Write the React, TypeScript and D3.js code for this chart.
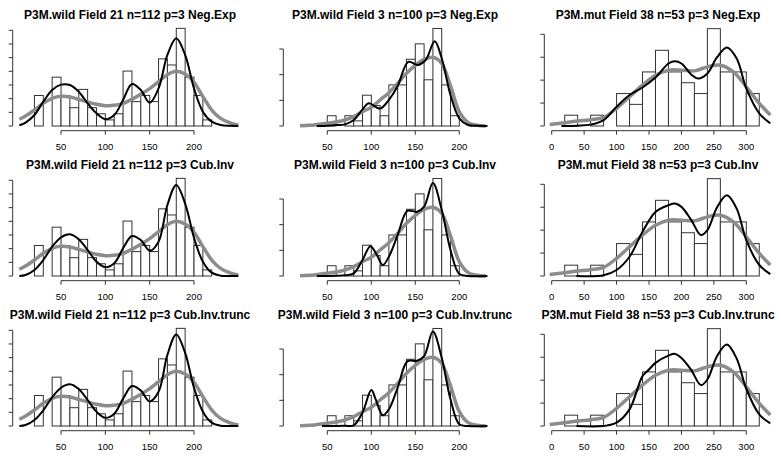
import React, { useEffect, useRef } from "react";
import * as d3 from "d3";

const WIDTH = 781;
const HEIGHT = 460;

// one column per field, one row per weighting method
const fieldLabels = ["P3M.wild Field 21 n=112", "P3M.wild Field 3 n=100", "P3M.mut Field 38 n=53"];
const methods = ["Neg.Exp", "Cub.Inv", "Cub.Inv.trunc"];
const sampleN = [112, 100, 53];
const binStart = [20, 50, 20];
const binWidth = [10, 10, 20];
const counts21 = [5, 0, 8, 5, 3, 6, 3, 2, 1, 2, 9, 4, 5, 4, 11, 10, 16, 8, 5, 1];
const counts3 = [2, 0, 2, 1, 6, 4, 2, 8, 8, 13, 16, 9, 19, 8, 2];
const counts38 = [1, 0, 1, 0, 3, 2, 5, 7, 5, 4, 3, 9, 5, 5, 3];

// densities below are x 1000
const grayX21 = [3, 10, 20, 30, 40, 50, 60, 70, 80, 90, 100, 110, 120, 130, 140, 150, 160, 170, 180, 190, 200, 210, 220, 230, 240, 250];
const grayY21 = [0.98, 1.46, 2.34, 3.32, 4.05, 4.34, 4.24, 3.9, 3.51, 3.17, 2.98, 3.02, 3.32, 3.9, 4.63, 5.46, 6.49, 7.51, 8.0, 7.6, 6.4, 4.3, 2.34, 1.12, 0.49, 0.15];
const blackX21 = grayX21;
const negExp21 = [0.1, 0.49, 1.61, 3.56, 5.27, 6.05, 6.0, 5.02, 3.32, 1.85, 1.0, 1.61, 3.8, 6.15, 5.27, 3.41, 5.5, 10.4, 12.83, 10.4, 5.5, 2.1, 0.63, 0.15, 0.02, 0];
const cubInv21 = [0, 0.15, 0.88, 2.34, 4.29, 5.66, 6.1, 5.37, 3.8, 2.1, 1.27, 1.85, 4.05, 5.85, 5.27, 3.7, 5.02, 10.39, 13.32, 10.6, 5.6, 2.1, 0.49, 0.05, 0, 0];
const cubTrunc21 = [0, 0.15, 0.88, 2.3, 4.2, 5.6, 6.1, 5.4, 3.8, 2.1, 1.2, 1.8, 4.0, 5.85, 5.2, 3.6, 5.0, 10.4, 13.4, 10.7, 5.6, 2.1, 0.5, 0.05, 0, 0];

const grayX3 = [19, 30, 40, 50, 60, 70, 80, 90, 100, 110, 120, 130, 140, 150, 160, 170, 180, 190, 200, 210, 220, 230];
const grayY3 = [0.03, 0.13, 0.32, 0.52, 0.78, 1.17, 1.82, 2.79, 3.64, 5.06, 6.49, 8.31, 10.26, 11.82, 12.99, 13.38, 12.2, 7.8, 2.79, 0.65, 0.13, 0];
const negExpX3 = [38, 50, 60, 70, 80, 90, 97, 110, 120, 130, 142, 153, 162, 172, 180, 190, 200, 210, 220, 232];
const negExp3 = [0, 0.06, 0.19, 0.32, 1.17, 3.25, 4.42, 3.4, 5.1, 7.8, 12.5, 11.9, 12.9, 16.5, 13.2, 6.0, 1.5, 0.19, 0.03, 0];
const cubInvX3 = [38, 60, 70, 80, 90, 99, 106, 113, 120, 130, 141, 152, 160, 170, 180, 190, 200, 210, 232];
const cubInv3 = [0, 0.06, 0.13, 0.52, 3.12, 5.8, 4.2, 2.14, 3.77, 8.0, 12.7, 12.5, 13.5, 18.1, 12.9, 5.06, 0.4, 0, 0];
const cubTruncX3 = [44, 70, 80, 90, 100, 105, 113, 120, 130, 141, 152, 160, 170, 180, 190, 200, 210, 232];
const cubTrunc3 = [0, 0.05, 0.13, 2.6, 7.0, 5.2, 2.08, 3.25, 7.5, 12.6, 12.7, 13.6, 18.4, 13.3, 5.2, 0.32, 0, 0];

const grayX38 = [-3, 20, 40, 60, 80, 100, 120, 140, 160, 180, 200, 220, 240, 260, 280, 300, 320, 337];
const grayY38 = [0.14, 0.29, 0.43, 0.55, 0.75, 1.54, 2.55, 3.57, 4.43, 4.87, 4.87, 4.81, 5.16, 5.3, 4.72, 3.42, 1.97, 0.96];
const negExpX38 = [15, 40, 60, 80, 100, 120, 140, 160, 180, 190, 200, 215, 226, 240, 255, 270, 285, 300, 320, 337];
const negExp38 = [0, 0.03, 0.12, 0.52, 1.68, 2.7, 3.36, 4.23, 5.45, 5.65, 5.45, 4.5, 4.14, 4.58, 6.0, 6.84, 5.9, 3.28, 1.1, 0.23];
const cubInvX38 = [38, 80, 100, 120, 140, 160, 180, 190, 200, 215, 230, 240, 255, 270, 285, 300, 320, 337];
const cubInv38 = [0, 0.06, 0.52, 1.68, 3.86, 5.59, 6.17, 6.32, 6.03, 4.9, 3.57, 4.0, 6.0, 7.04, 5.9, 3.13, 0.96, 0.17];
const cubTruncX38 = [38, 80, 100, 120, 140, 150, 160, 180, 190, 200, 215, 230, 240, 255, 270, 285, 300, 320, 337];
const cubTrunc38 = [0, 0, 0.29, 1.45, 4.35, 4.93, 5.51, 6.14, 6.29, 5.94, 4.9, 3.57, 4.06, 6.1, 7.1, 5.9, 3.25, 1.01, 0.23];

const countsByCol = [counts21, counts3, counts38];
const grayByCol = [[grayX21, grayY21], [grayX3, grayY3], [grayX38, grayY38]];
const blackByPanel = [
  [[blackX21, negExp21], [negExpX3, negExp3], [negExpX38, negExp38]],
  [[blackX21, cubInv21], [cubInvX3, cubInv3], [cubInvX38, cubInv38]],
  [[blackX21, cubTrunc21], [cubTruncX3, cubTrunc3], [cubTruncX38, cubTrunc38]],
];

// layout per column
const COLS = [
  { dom: [0, 200], rng: [16.7, 194], yAxisX: 12.7, yTop: 30.3, yMax: 14, yStep: 2, xTicks: [50, 100, 150, 200], titleX: 130 },
  { dom: [0, 200], rng: [283.3, 459.3], yAxisX: 283.3, yTop: 49, yMax: 15, yStep: 5, xTicks: [50, 100, 150, 200], titleX: 395 },
  { dom: [0, 300], rng: [551.7, 746.3], yAxisX: 544.3, yTop: 34.3, yMax: 8, yStep: 2, xTicks: [0, 50, 100, 150, 200, 250, 300], titleX: 658 },
];
const ROW_H = 150;
const BASE = 126;
const FONT = "'Liberation Sans', Arial, Helvetica, sans-serif";

const App = () => {
  const ref = useRef<SVGSVGElement>(null);

  useEffect(() => {
    const svg = d3.select(ref.current);
    svg.selectAll("*").remove();

    for (let r = 0; r < 3; r++) {
      for (let c = 0; c < 3; c++) {
        const col = COLS[c];
        const g = svg.append("g").attr("transform", `translate(0,${r * ROW_H})`);
        const x = d3.scaleLinear().domain(col.dom).range(col.rng);
        const y = d3.scaleLinear().domain([0, col.yMax]).range([BASE, col.yTop]);

        // histogram bars
        const counts = countsByCol[c];
        const bw = binWidth[c];
        g.selectAll("rect.bar")
          .data(counts)
          .enter()
          .append("rect")
          .attr("x", (d, i) => x(binStart[c] + i * bw))
          .attr("width", x(bw) - x(0))
          .attr("y", (d) => y((d / (sampleN[c] * bw)) * 1000))
          .attr("height", (d) => BASE - y((d / (sampleN[c] * bw)) * 1000))
          .attr("fill", "white")
          .attr("stroke", "#333")
          .attr("stroke-width", 1);

        const line = d3
          .line<[number, number]>()
          .x((d) => x(d[0]))
          .y((d) => Math.min(BASE, y(d[1])))
          .curve(d3.curveCatmullRom.alpha(0.5));

        const [gx, gy] = grayByCol[c];
        g.append("path")
          .datum(gx.map((v, i) => [v, gy[i]] as [number, number]))
          .attr("d", line)
          .attr("fill", "none")
          .attr("stroke", "#8c8c8c")
          .attr("stroke-width", 3.5);

        const [bx, by] = blackByPanel[r][c];
        g.append("path")
          .datum(bx.map((v, i) => [v, by[i]] as [number, number]))
          .attr("d", line)
          .attr("fill", "none")
          .attr("stroke", "#000")
          .attr("stroke-width", 2);

        // x axis
        const xa = BASE + 4.7;
        const xt = col.xTicks;
        g.append("line")
          .attr("x1", x(xt[0]))
          .attr("x2", x(xt[xt.length - 1]))
          .attr("y1", xa)
          .attr("y2", xa)
          .attr("stroke", "#333");
        xt.forEach((t) => {
          g.append("line")
            .attr("x1", x(t))
            .attr("x2", x(t))
            .attr("y1", xa)
            .attr("y2", xa + 4)
            .attr("stroke", "#333");
          g.append("text")
            .attr("x", x(t))
            .attr("y", xa + 19)
            .attr("text-anchor", "middle")
            .attr("font-family", FONT)
            .attr("font-size", 9.5)
            .text(t);
        });

        // y axis (labels fall outside the page)
        g.append("line")
          .attr("x1", col.yAxisX)
          .attr("x2", col.yAxisX)
          .attr("y1", y(0))
          .attr("y2", y(col.yMax))
          .attr("stroke", "#333");
        d3.range(0, col.yMax + 0.001, col.yStep).forEach((t) => {
          g.append("line")
            .attr("x1", col.yAxisX - 4)
            .attr("x2", col.yAxisX)
            .attr("y1", y(t))
            .attr("y2", y(t))
            .attr("stroke", "#333");
        });

        g.append("text")
          .attr("x", col.titleX)
          .attr("y", 19)
          .attr("text-anchor", "middle")
          .attr("font-family", FONT)
          .attr("font-weight", "bold")
          .attr("font-size", 12)
          .text(`${fieldLabels[c]} p=3 ${methods[r]}`);
      }
    }
  }, []);

  return (
    <svg
      ref={ref}
      width={WIDTH}
      height={HEIGHT}
      style={{ position: "absolute", left: 0, top: 0, background: "#fff" }}
    />
  );
};

export default App;
